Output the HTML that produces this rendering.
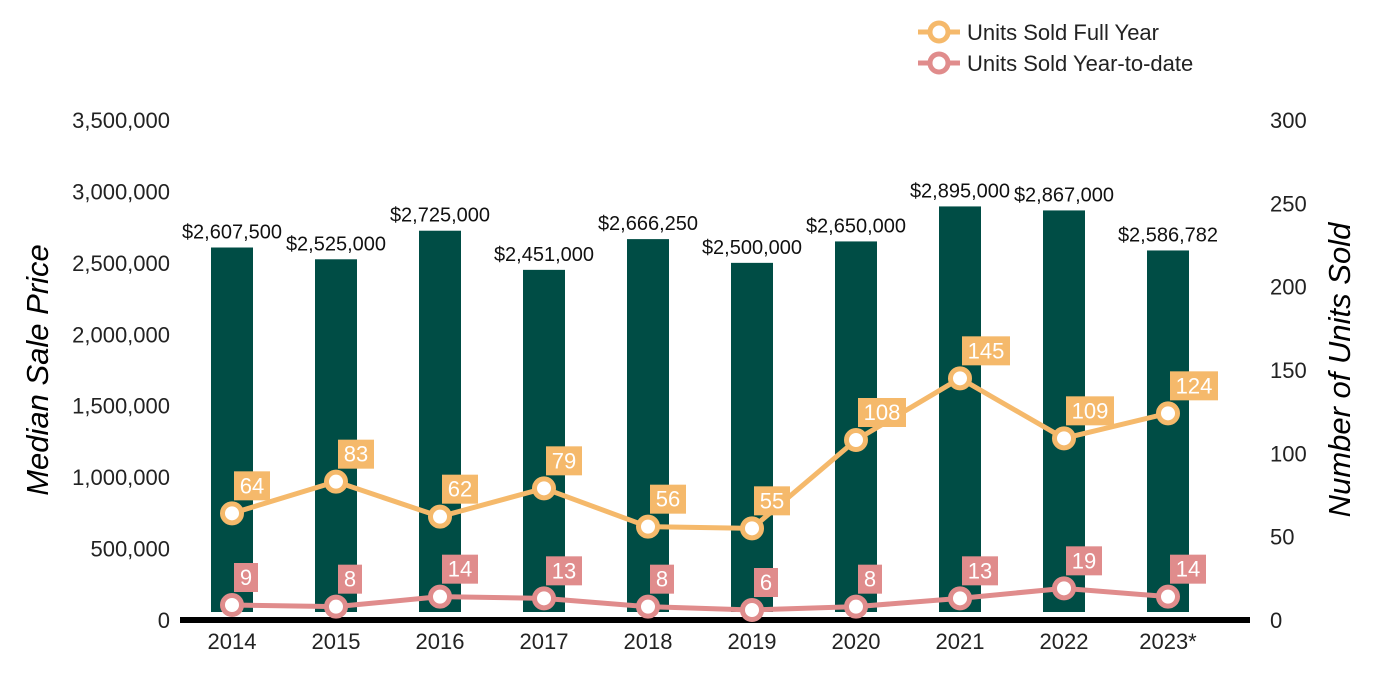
<!DOCTYPE html>
<html><head><meta charset="utf-8"><style>
body{margin:0;background:#fff;}
svg{display:block;font-family:"Liberation Sans",Arial,sans-serif;}
</style></head><body>
<svg id="chart" width="1400" height="700">
<g id="legend">
 <g>
  <line x1="918" y1="32" x2="960" y2="32" stroke="#F5B96B" stroke-width="5"/>
  <circle cx="939" cy="32" r="9" fill="#fff" stroke="#F5B96B" stroke-width="5"/>
  <text x="967" y="40" font-size="22" fill="#222">Units Sold Full Year</text>
 </g>
 <g>
  <line x1="918" y1="63" x2="960" y2="63" stroke="#E08C8C" stroke-width="5"/>
  <circle cx="939" cy="63" r="9" fill="#fff" stroke="#E08C8C" stroke-width="5"/>
  <text x="967" y="71" font-size="22" fill="#222">Units Sold Year-to-date</text>
 </g>
</g>
<text x="48" y="370" font-size="31" font-style="italic" text-anchor="middle" transform="rotate(-90 48 370)">Median Sale Price</text>
<text x="1350" y="370" font-size="31" font-style="italic" text-anchor="middle" transform="rotate(-90 1350 370)">Number of Units Sold</text>
<g id="plot"></g>
</svg>
<script>
const categories=["2014","2015","2016","2017","2018","2019","2020","2021","2022","2023*"];
const prices=[2607500,2525000,2725000,2451000,2666250,2500000,2650000,2895000,2867000,2586782];
const fullYear=[64,83,62,79,56,55,108,145,109,124];
const ytd=[9,8,14,13,8,6,8,13,19,14];
const leftTicks=[0,500000,1000000,1500000,2000000,2500000,3000000,3500000];
const rightTicks=[0,50,100,150,200,250,300];
const NS="http://www.w3.org/2000/svg";
const g=document.getElementById('plot');
const y0=620,yTop=120;
const yL=v=>y0-(v/3500000)*(y0-yTop);
const yR=v=>y0-(v/300)*(y0-yTop);
const xC=i=>232+i*104;
function mk(t,a,p){const e=document.createElementNS(NS,t);for(const k in a)e.setAttribute(k,a[k]);(p||g).appendChild(e);return e;}
leftTicks.forEach(v=>{const t=mk('text',{x:170,y:yL(v)+8,'font-size':22,'text-anchor':'end',fill:'#222'});t.textContent=v.toLocaleString('en-US');

});
rightTicks.forEach(v=>{const t=mk('text',{x:1270,y:yR(v)+8,'font-size':22,fill:'#222'});t.textContent=v;

});
prices.forEach((v,i)=>{const b=mk('rect',{x:xC(i)-21,y:yL(v),width:42,height:612-yL(v),fill:'#004D45'});


const t=mk('text',{x:xC(i),y:yL(v)-9,'font-size':20,'text-anchor':'middle',fill:'#111'});t.textContent='$'+v.toLocaleString('en-US');


const c=mk('text',{x:xC(i),y:649,'font-size':22,'text-anchor':'middle',fill:'#222'});c.textContent=categories[i];

});
const ax=mk('line',{x1:180,y1:620,x2:1250,y2:620,stroke:'#000','stroke-width':6});


function series(vals,color,name){
 const pl=mk('polyline',{points:vals.map((v,i)=>xC(i)+','+yR(v)).join(' '),fill:'none',stroke:color,'stroke-width':5});
 
 
 vals.forEach((v,i)=>{const c=mk('circle',{cx:xC(i),cy:yR(v),r:9.5,fill:'#fff',stroke:color,'stroke-width':5});
  
  
  const s=String(v),w=s.length*12+12;
  const r=mk('rect',{x:xC(i)+2,y:yR(v)-42,width:w,height:29,fill:color});
  
  
  const t=mk('text',{x:xC(i)+2+w/2,y:yR(v)-20,'font-size':22,'text-anchor':'middle',fill:'#fff'});t.textContent=s;
  
  });
}
series(fullYear,'#F5B96B','full-year');
series(ytd,'#E08C8C','ytd');
</script>
</body></html>
